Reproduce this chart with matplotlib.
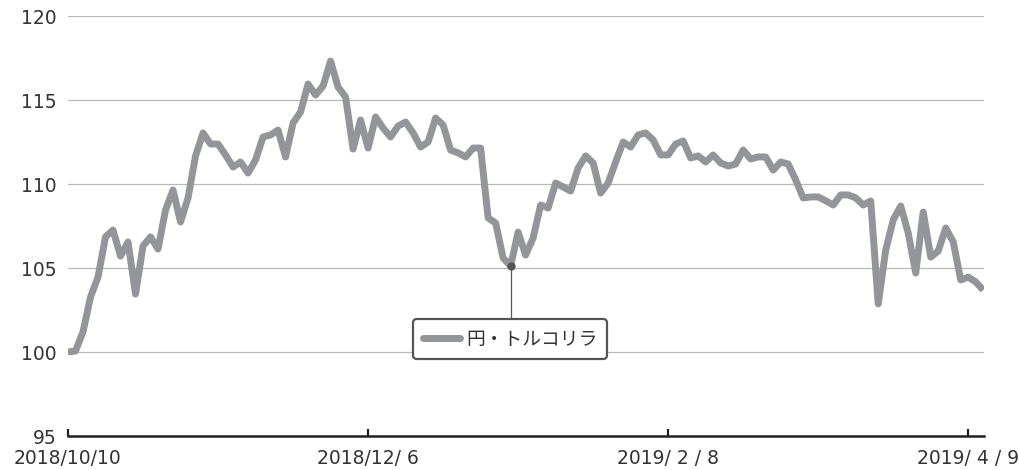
import matplotlib
matplotlib.use('Agg')
import matplotlib.pyplot as plt
from matplotlib.lines import Line2D

plt.rcParams['font.family'] = ['DejaVu Sans', 'Noto Sans CJK JP']

# 円・トルコリラ (2018/10/10 = 100)
values = [
    100.0, 100.06, 101.2, 103.27, 104.46, 106.85, 107.26, 105.71, 106.55, 103.45,
    106.31, 106.85, 106.13, 108.45, 109.64, 107.74, 109.17, 111.67, 113.04, 112.38,
    112.38, 111.73, 111.01, 111.31, 110.65, 111.43, 112.8, 112.92, 113.21, 111.61,
    113.63, 114.29, 115.95, 115.3, 115.83, 117.32, 115.77, 115.18, 112.08, 113.81,
    112.14, 113.99, 113.33, 112.8, 113.45, 113.69, 113.04, 112.2, 112.5, 113.93,
    113.51, 112.02, 111.85, 111.61, 112.14, 112.14, 107.98, 107.68, 105.6, 105.12,
    107.14, 105.77, 106.79, 108.75, 108.57, 110.06, 109.82, 109.58, 110.95, 111.67,
    111.25, 109.46, 110.06, 111.31, 112.5, 112.2, 112.92, 113.04, 112.62, 111.73,
    111.73, 112.38, 112.56, 111.55, 111.67, 111.31, 111.73, 111.25, 111.07, 111.19,
    112.02, 111.49, 111.61, 111.61, 110.83, 111.31, 111.19, 110.24, 109.17, 109.23,
    109.23, 109.0, 108.75, 109.35, 109.35, 109.17, 108.75, 108.99, 102.86, 106.07,
    107.86, 108.69, 107.08, 104.7, 108.33, 105.65, 106.01, 107.38, 106.55, 104.29,
    104.46, 104.17, 103.69,
]
tick_pos = [0, 40, 80, 120]
tick_labels = ['2018/10/10', '2018/12/ 6', '2019/ 2 / 8', '2019/ 4 / 9']
series_name = '円・トルコリラ'
marked = 59  # annotated point

line_color = '#939598'
text_color = '#333333'

fig = plt.figure(figsize=(10.2, 4.7), dpi=100)
ax = fig.add_axes([68 / 1020, 34 / 470, 916 / 1020, 420 / 470])

x = list(range(len(values)))
ax.plot(x, values, color=line_color, lw=5, solid_joinstyle='round',
        solid_capstyle='butt', zorder=3)

ax.set_xlim(0, 122.1)
ax.set_ylim(95, 120)
ax.set_yticks([95, 100, 105, 110, 115, 120])
for v in [100, 105, 110, 115, 120]:
    ax.axhline(v, color='#b8b8b8', lw=0.9, zorder=1)

ax.set_xticks(tick_pos)
ax.set_xticklabels(tick_labels)
ax.tick_params(axis='x', direction='in', length=5, width=1.6, color='#231f20',
               pad=9, labelsize=13.5, labelcolor=text_color)
ax.tick_params(axis='y', length=0, pad=8, labelsize=13.5, labelcolor=text_color)

for s in ['top', 'right', 'left']:
    ax.spines[s].set_visible(False)
ax.spines['bottom'].set_color('#231f20')
ax.spines['bottom'].set_linewidth(1.8)

# annotation: point, connector and boxed label
box_y = 101.9
ax.plot([marked, marked], [values[marked], box_y], color='#555555', lw=0.9, zorder=4)
ax.plot([marked], [values[marked]], 'o', color='#555555', ms=5, zorder=5)

handle = Line2D([], [], color=line_color, lw=5, solid_capstyle='round')
leg = ax.legend([handle], [series_name], loc='center',
                bbox_to_anchor=((510 - 68) / 916, (436 - 339) / 420),
                frameon=True, fancybox=True, handlelength=2.0, handletextpad=0.3,
                borderpad=0.5, prop={'family': 'Noto Sans CJK JP', 'size': 13.5})
leg.get_frame().set_edgecolor('#555555')
leg.get_frame().set_linewidth(1.6)
leg.get_frame().set_facecolor('white')
leg.get_frame().set_alpha(1)
for t in leg.get_texts():
    t.set_color(text_color)
leg.set_zorder(6)

fig.savefig('out.png', dpi=100)
